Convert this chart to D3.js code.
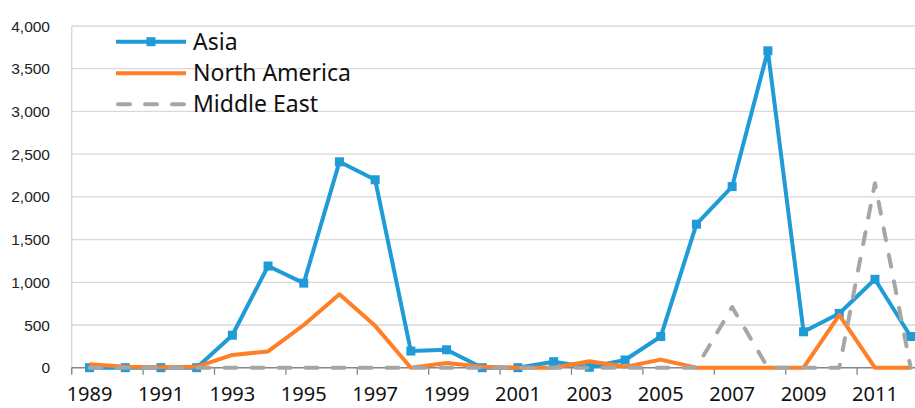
<!DOCTYPE html>
<html><head><meta charset="utf-8">
<script src="https://cdn.jsdelivr.net/npm/d3@7"></script>
<style>body{margin:0;background:#fff}svg{display:block}</style>
</head><body>
<svg id="c" width="915" height="408"></svg>
<script>
const years = d3.range(1989, 2013);
const tickLabels = ["1989","1991","1993","1995","1997","1999","2001","2003","2005","2007","2009","2011"];
const yTicks = [0,500,1000,1500,2000,2500,3000,3500,4000];
const seriesNames = ["Asia","North America","Middle East"];
const asia = [0,0,0,0,380,1190,990,2410,2200,195,210,0,0,70,5,90,365,1680,2120,3710,420,635,1035,365];
const northAmerica = [40,10,5,10,150,190,500,860,490,0,55,10,0,0,75,10,95,0,0,0,0,615,0,0];
const middleEast = [0,0,0,0,0,0,0,0,0,0,0,0,0,0,0,0,0,0,710,0,0,0,2160,0];
const colors = ["#1F9BD7","#FF7F27","#A6A6A6"];

const svg = d3.select("#c");
const left = 71.7, step = 35.7;
const x = d3.scaleBand().domain(years).range([left, left + step*years.length]).paddingInner(0).paddingOuter(0);
const cx = d => x(d) + x.bandwidth()/2;
const y = d3.scaleLinear().domain([0,4000]).range([367.7, 26]);

// gridlines
svg.append("g").selectAll("line").data(yTicks.filter(v=>v>0)).join("line")
  .attr("x1", left).attr("x2", 915).attr("y1", d=>y(d)).attr("y2", d=>y(d))
  .attr("stroke", "#D9D9D9").attr("stroke-width", 1.3);
// y axis line
svg.append("line").attr("x1", left).attr("x2", left).attr("y1", y(4000)).attr("y2", y(0)+6)
  .attr("stroke", "#D9D9D9").attr("stroke-width", 1.5);
// y labels
svg.append("g").selectAll("text").data(yTicks).join("text")
  .attr("x", 50).attr("y", d=>y(d)).attr("dy","0.36em").attr("text-anchor","end")
  .attr("font-family","'Liberation Sans', Arial, sans-serif").attr("font-size", 15.5).attr("fill","#222")
  .text(d=>d3.format(",")(d));

// x axis
svg.append("line").attr("x1", left).attr("x2", 915).attr("y1", y(0)).attr("y2", y(0))
  .attr("stroke", "#868686").attr("stroke-width", 1.5);
svg.append("g").selectAll("line").data(years.filter(d=>tickLabels.includes(String(d)))).join("line")
  .attr("x1", d=>x(d)).attr("x2", d=>x(d)).attr("y1", y(0)).attr("y2", y(0)+7)
  .attr("stroke", "#868686").attr("stroke-width", 1.3);
svg.append("g").selectAll("text").data(tickLabels).join("text")
  .attr("x", d=>cx(+d)).attr("y", 401).attr("text-anchor","middle")
  .attr("font-family","'Noto Sans', sans-serif").attr("font-size", 20).attr("fill","#111")
  .text(d=>d);

const line = d3.line().x((d,i)=>cx(years[i])).y(d=>y(d));
const data = [asia, northAmerica, middleEast];
data.forEach((s,k)=>{
  const p = svg.append("path").attr("d", line(s)).attr("fill","none")
    .attr("stroke", colors[k]).attr("stroke-width", 4).attr("stroke-linejoin","round");
  if (k===2) p.attr("stroke-dasharray","12,15").attr("stroke-linecap","round");
  if (k===0) {
    svg.append("g").selectAll("rect").data(s).join("rect")
      .attr("x",(d,i)=>cx(years[i])-4.5).attr("y",d=>y(d)-4.5).attr("width",9).attr("height",9)
      .attr("fill", colors[0]);
  }
});

// legend
const lg = svg.append("g");
const ly = [41.7, 73.3, 104.3];
seriesNames.forEach((n,k)=>{
  const l = lg.append("line").attr("x1",116).attr("x2",186).attr("y1",ly[k]).attr("y2",ly[k])
    .attr("stroke",colors[k]).attr("stroke-width",4);
  if (k===2) l.attr("x1",118).attr("x2",186).attr("stroke-dasharray","12,15").attr("stroke-linecap","round");
  if (k===0) lg.append("rect").attr("x",151-4.5).attr("y",ly[k]-4.5).attr("width",9).attr("height",9).attr("fill",colors[0]);
  lg.append("text").attr("x",193).attr("y",ly[k]).attr("dy","0.35em")
    .attr("font-family","'Noto Sans', sans-serif").attr("font-size",23).attr("fill","#111").text(n);
});
</script>
</body></html>
